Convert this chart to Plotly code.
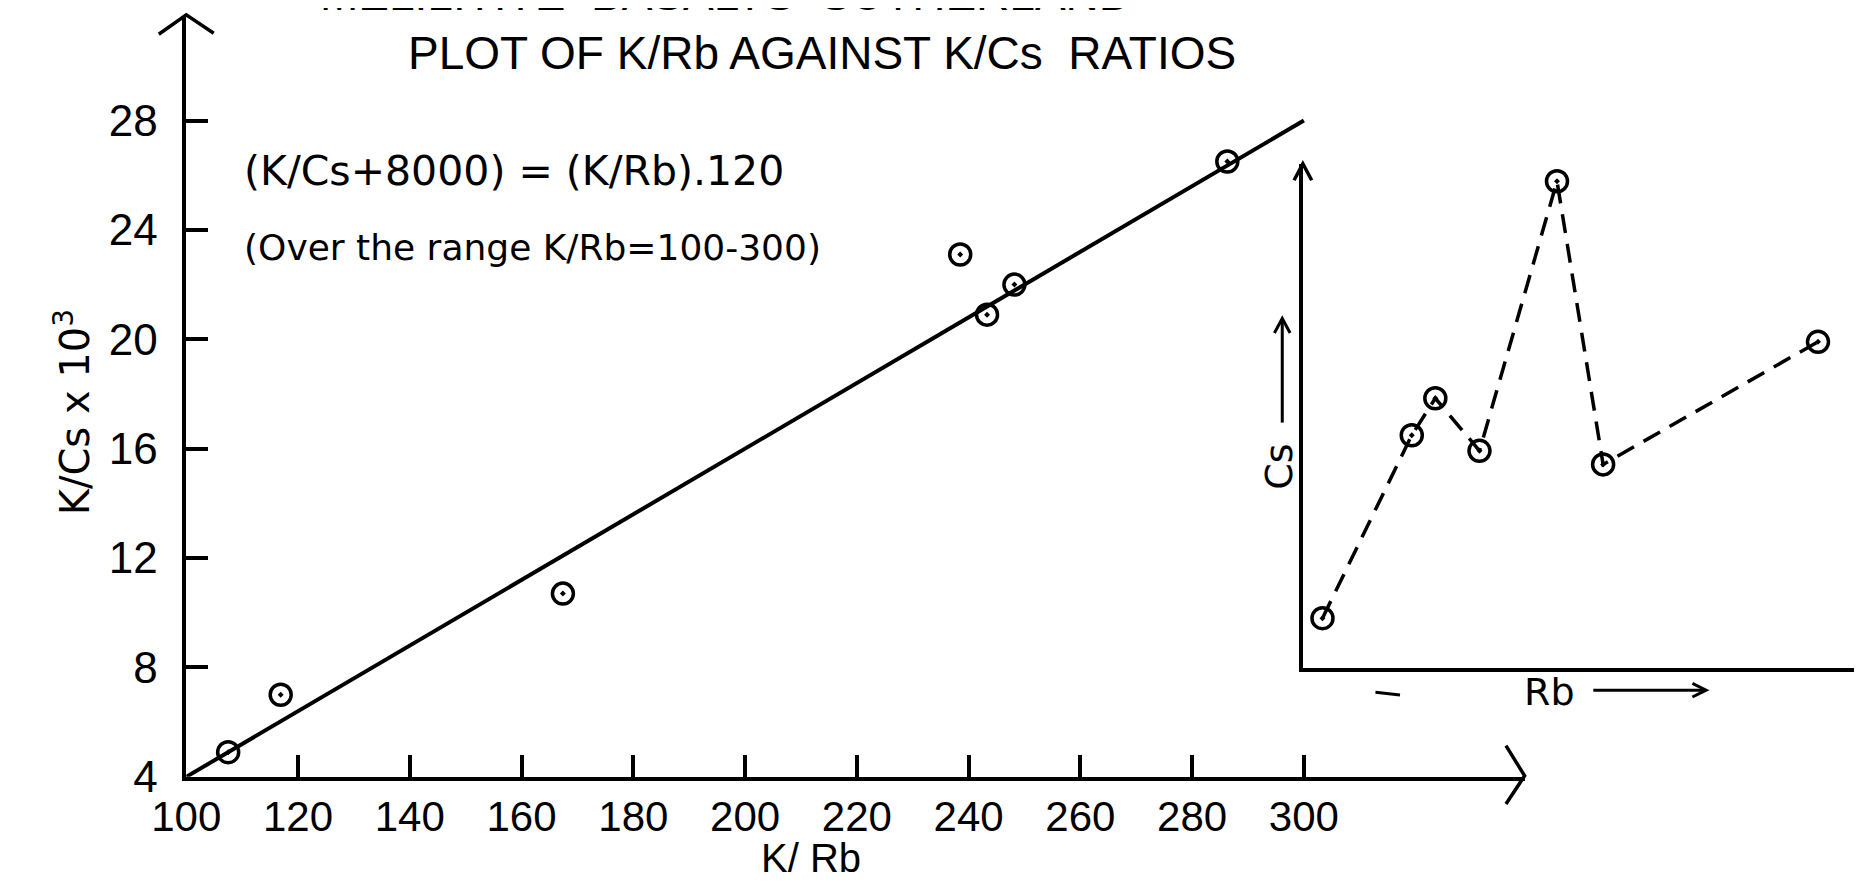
import plotly.graph_objects as go

W, H = 1862, 895

# ---- main plot data ----
k_rb = [107.5, 116.9, 167.4, 238.5, 243.3, 248.2, 286.3]
k_cs = [4.9, 7.0, 10.7, 23.1, 20.9, 22.0, 26.5]
x_ticks = [100, 120, 140, 160, 180, 200, 220, 240, 260, 280, 300]
y_ticks = [4, 8, 12, 16, 20, 24, 28]
fit_x = [100, 300]  # K/Cs = 120*(K/Rb) - 8000, in thousands
fit_y = [(120 * v - 8000) / 1000 for v in fit_x]

# ---- inset (schematic, arbitrary units) ----
rb = [20, 111, 135, 180, 259, 306, 525]
cs = [51, 239, 277, 223, 500, 209, 335]


def px(x):
    return x / W


def py(y):
    return 1 - y / H


fig = go.Figure()

fig.add_trace(go.Scatter(x=fit_x, y=fit_y, mode="lines",
                         line=dict(color="black", width=4),
                         xaxis="x", yaxis="y", hoverinfo="skip"))
fig.add_trace(go.Scatter(x=k_rb, y=k_cs, mode="markers",
                         marker=dict(symbol="circle-open-dot", size=21,
                                     color="black", line=dict(width=3.5, color="black")),
                         xaxis="x", yaxis="y"))
fig.add_trace(go.Scatter(x=rb, y=cs, mode="lines+markers",
                         line=dict(color="black", width=3.5, dash="19px,11px"),
                         marker=dict(symbol="circle-open-dot", size=21,
                                     color="black", line=dict(width=3.5, color="black")),
                         xaxis="x2", yaxis="y2"))

shapes = []


def path(points, width=3.5):
    d = "M " + " L ".join(f"{px(a):.5f},{py(b):.5f}" for a, b in points)
    shapes.append(dict(type="path", path=d, xref="paper", yref="paper",
                       line=dict(color="black", width=width), layer="above"))


# main axis arrowheads
path([(118, 27), (146, 7), (174, 26)])
path([(1491, 758), (1510, 789), (1491, 818)])
# inset axis arrowheads
path([(1275, 177), (1284, 160), (1293, 177)])
path([(1849, 668), (1860, 678), (1849, 690)])
# small label arrows
path([(1263, 426), (1263, 321)], 3)
path([(1255, 334), (1263, 319), (1271, 334)], 3)
path([(1580, 701), (1694, 701)], 3)
path([(1681, 694), (1695, 701), (1681, 708)], 3)
# stray pen mark under the inset axis
path([(1358, 703), (1383, 706)], 3)

TXT = dict(color="black")
ann = [
    dict(text="PLOT OF K/Rb AGAINST K/Cs  RATIOS", x=px(794), y=py(46),
         font=dict(family="Liberation Sans", size=46, **TXT)),
    dict(text="MELILITITE\u00a0\u00a0BASALTS\u00a0\u00a0SUTHERLAND", x=px(280), y=py(-14),
         xanchor="left",
         font=dict(family="Liberation Sans", size=46, **TXT)),
    dict(text="(K/Cs+8000) = (K/Rb).120", x=px(203), y=py(168), xanchor="left",
         font=dict(family="DejaVu Sans", size=41, **TXT)),
    dict(text="(Over the range K/Rb=100-300)", x=px(203), y=py(246), xanchor="left",
         font=dict(family="DejaVu Sans", size=36, **TXT)),
    dict(text="K/Cs x 10<sup>3</sup>", x=px(30), y=py(415), textangle=-90,
         font=dict(family="DejaVu Sans", size=40, **TXT)),
    dict(text="K/ Rb", x=px(783), y=py(873),
         font=dict(family="Liberation Sans", size=40, **TXT)),
    dict(text="Cs", x=px(1260), y=py(471), textangle=-90,
         font=dict(family="DejaVu Sans", size=38, **TXT)),
    dict(text="Rb", x=px(1535), y=py(703),
         font=dict(family="DejaVu Sans", size=38, **TXT)),
]
for a in ann:
    a.setdefault("xref", "paper")
    a.setdefault("yref", "paper")
    a.setdefault("showarrow", False)
    a.setdefault("xanchor", "center")
    a.setdefault("yanchor", "middle")

fig.update_layout(
    width=W, height=H,
    margin=dict(l=0, r=0, t=0, b=0),
    paper_bgcolor="white", plot_bgcolor="white",
    showlegend=False,
    shapes=shapes, annotations=ann,
    xaxis=dict(domain=[px(146), px(1510)], range=[100, 339.5],
               tickvals=x_ticks, ticktext=[str(v) for v in x_ticks],
               ticks="inside", ticklen=22, tickwidth=3.5, tickcolor="black",
               showline=True, linecolor="black", linewidth=4,
               showgrid=False, zeroline=False, anchor="y",
               tickfont=dict(family="Liberation Sans", size=42, color="black"),
               ticklabelstandoff=0),
    yaxis=dict(domain=[py(790), py(8)], range=[4, 31.83],
               tickvals=y_ticks, ticktext=[str(v) for v in y_ticks],
               ticks="inside", ticklen=22, tickwidth=3.5, tickcolor="black",
               showline=True, linecolor="black", linewidth=3.5,
               showgrid=False, zeroline=False, anchor="x",
               tickfont=dict(family="Liberation Sans", size=44, color="black"),
               ticklabelstandoff=16),
    xaxis2=dict(domain=[px(1284), px(1860)], range=[0, 576],
                showline=True, linecolor="black", linewidth=4,
                showticklabels=False, ticks="", showgrid=False, zeroline=False,
                anchor="y2"),
    yaxis2=dict(domain=[py(678), py(160)], range=[0, 518],
                showline=True, linecolor="black", linewidth=4,
                showticklabels=False, ticks="", showgrid=False, zeroline=False,
                anchor="x2"),
)

fig.write_html("out.html")
